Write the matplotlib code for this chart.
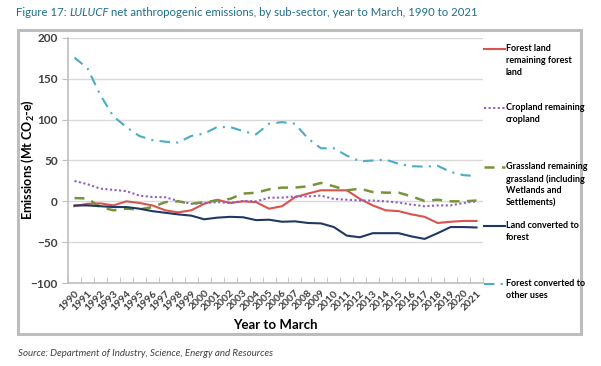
import matplotlib
matplotlib.use("Agg")
import matplotlib.pyplot as plt
from matplotlib.lines import Line2D
from matplotlib.patches import Rectangle
import numpy as np

plt.rcParams['font.family'] = ['Lato', 'DejaVu Sans']
plt.rcParams['mathtext.fontset'] = 'custom'
plt.rcParams['mathtext.rm'] = 'Lato'
plt.rcParams['mathtext.bf'] = 'Lato:bold'

years = [str(y) for y in range(1990, 2022)]

forest_remaining = [-6, -3, -2.5, -5, 0, -2, -5, -11, -13.5, -11, -3, 2, -2, 0, -1, -9, -6, 5,
                    9.5, 13.5, 13.5, 13.5, 3, -5, -11, -12, -16, -19, -26.5, -25, -24, -24]
cropland = [25, 21, 15.5, 14, 12.5, 7, 5.3, 5, 0.5, -3, -2, -1, -2, 0.5, 0, 4.5, 4.5, 6,
            6, 7, 3, 2, 1, 1, 0, -1.5, -4, -6, -5, -5, -2, 0]
grassland = [4, 3.5, -7, -11, -9, -10, -7, -1, 0, -3, -1, 1, 3, 9.5, 10.5, 14.7, 16.8, 16.8,
             18.4, 22.5, 18.4, 13.5, 15.5, 11.4, 10.6, 10.6, 6, 0.4, 2, 0, 0, 1]
land_to_forest = [-5, -5, -6, -7, -7, -9, -12, -14, -16, -17.5, -22, -20, -19, -19.5, -23, -22.5,
                  -25, -24.5, -26.5, -27, -31.5, -42, -44, -39, -39, -39, -43, -46, -39, -31.5, -31.5, -32]
forest_converted = [176, 163, 130, 104, 91, 80, 75, 73, 72, 80, 83, 91, 91, 86, 82, 95, 97, 95,
                    77, 65, 65, 56, 49, 50, 51, 46, 43, 42.5, 43.5, 36, 32, 31]

labels = ["Forest land\nremaining forest\nland",
          "Cropland remaining\ncropland",
          "Grassland remaining\ngrassland (including\nWetlands and\nSettlements)",
          "Land converted to\nforest",
          "Forest converted to\nother uses"]

W, H = 601, 366
fig = plt.figure(figsize=(W / 100, H / 100), dpi=100)

ax = fig.add_axes([68 / W, 1 - 283 / H, 415 / W, 245 / H])
x = np.arange(len(years))

# outer frame round the whole chart
ax.add_patch(Rectangle((18 / W, 1 - 334 / H), (581 - 18) / W, (334 - 30) / H,
                       transform=fig.transFigure, fill=False, clip_on=False,
                       edgecolor='#BDBDBD', linewidth=2.2, zorder=10))

styles = [
    dict(data=forest_remaining, color='#D9534F', ls='-', lw=1.5),
    dict(data=cropland, color='#8E5FC2', ls=(0, (1, 1.2)), lw=1.5),
    dict(data=grassland, color='#77933C', ls=(0, (4, 3)), lw=1.8),
    dict(data=land_to_forest, color='#1F3864', ls='-', lw=1.5),
    dict(data=forest_converted, color='#4BACC6', ls=(0, (5, 3, 1, 3)), lw=1.5),
]
for s in styles:
    ax.plot(x, s['data'], color=s['color'], linestyle=s['ls'], linewidth=s['lw'])

ax.set_xlim(-0.5, len(years) - 0.5)
ax.set_ylim(-100, 200)
ax.set_yticks(range(-100, 201, 50))
ax.yaxis.grid(True, color='#D9D9D9', linewidth=1)
ax.set_axisbelow(True)
ax.set_xticks(x)
ax.set_xticklabels(years, rotation=45, ha='right', rotation_mode='anchor',
                   fontsize=7.5, color='#404040')
ax.set_xticks(np.arange(-0.5, len(years), 1), minor=True)
ax.tick_params(axis='x', which='major', length=0, pad=4)
ax.tick_params(axis='x', which='minor', length=4, color='#BFBFBF', direction='in')
ax.tick_params(axis='y', length=4, color='#BFBFBF', labelsize=8.5, labelcolor='#404040')
for lab in ax.get_yticklabels():
    lab.set_fontweight('bold')
for lab in ax.get_xticklabels():
    lab.set_fontweight('bold')
for sp in ['top', 'right']:
    ax.spines[sp].set_visible(False)
for sp in ['left', 'bottom']:
    ax.spines[sp].set_color('#BFBFBF')
    ax.spines[sp].set_linewidth(1.2)

fig.text(28 / W, 1 - 160 / H, r"Emissions (Mt CO$_\mathbf{2}$-e)", rotation=90,
         ha='center', va='center', fontsize=9, fontweight='bold')
fig.text(275 / W, 1 - 325 / H, "Year to March", ha='center', va='center',
         fontsize=9.5, fontweight='bold')

# legend
leg_y = [49, 108, 167, 226, 284]
for s, lab, yy in zip(styles, labels, leg_y):
    fig.add_artist(Line2D([484 / W, 505 / W], [1 - yy / H, 1 - yy / H],
                          transform=fig.transFigure, color=s['color'],
                          linestyle=s['ls'], linewidth=s['lw']))
    fig.text(505.5 / W, 1 - (yy - 5) / H, lab, ha='left', va='top', fontsize=6.5,
             fontweight='bold', linespacing=1.4)

# title
TFS = 8.2
TCOL = '#1F6E8C'
t1 = fig.text(16 / W, 1 - 12 / H, "Figure 17: ", ha='left', va='center', fontsize=TFS,
              color=TCOL)
fig.canvas.draw()
bb = t1.get_window_extent()
t2 = fig.text(bb.x1 / W, 1 - 12 / H, "LULUCF", ha='left', va='center', fontsize=TFS,
              color=TCOL, style='italic')
fig.canvas.draw()
bb2 = t2.get_window_extent()
fig.text(bb2.x1 / W + 2.5 / W, 1 - 12 / H,
         "net anthropogenic emissions, by sub-sector, year to March, 1990 to 2021",
         ha='left', va='center', fontsize=TFS, color=TCOL)

fig.text(18 / W, 1 - 353 / H,
         "Source: Department of Industry, Science, Energy and Resources",
         ha='left', va='center', fontsize=7, style='italic', color='#404040')

fig.savefig("out.png", dpi=100)
